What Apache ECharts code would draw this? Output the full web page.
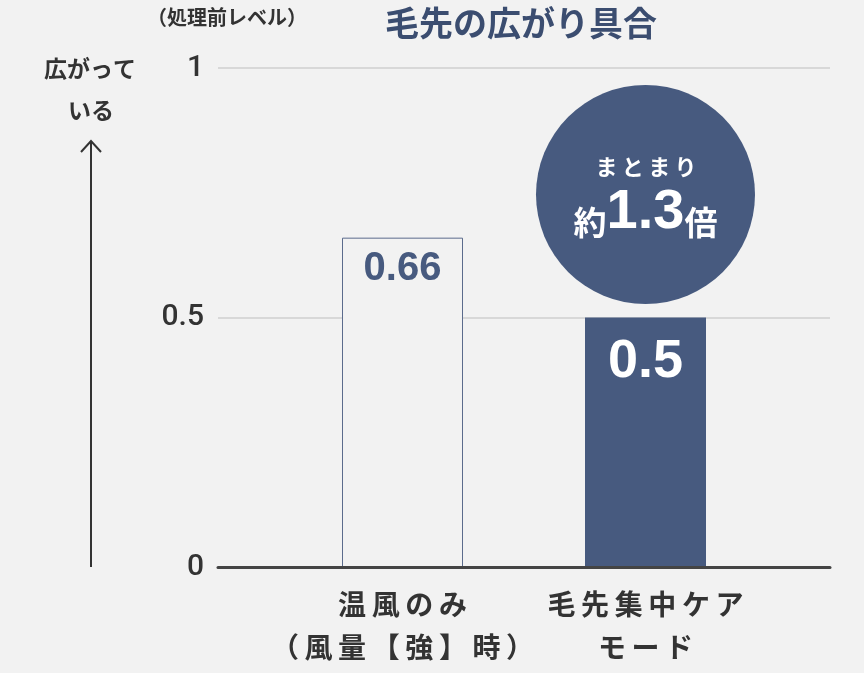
<!DOCTYPE html>
<html><head><meta charset="utf-8">
<script src="https://cdn.jsdelivr.net/npm/echarts@6/dist/echarts.min.js"></script>
<style>html,body{margin:0;padding:0;background:#f2f2f2}#c{width:864px;height:673px}</style>
</head><body><div id="c"></div>
<script>
// ---- data ----
const categories = ['温風のみ\n（風量【強】時）', '毛先集中ケア\nモード'];
const values = [0.66, 0.5];
const yTicks = [0, 0.5, 1];
const titleText = '毛先の広がり具合';
const noteText = '（処理前レベル）';
const yNameLines = ['広がって', 'いる'];
const badgeTop = 'まとまり';
const badgeMain = ['約', '1.3', '倍'];

// ---- style ----
const BG = '#f2f2f2';
const NAVY = '#475a7f';
const JP = '"Noto Sans CJK JP","Noto Sans",sans-serif';
const NUM = '"Liberation Sans",Arial,sans-serif';

const chart = echarts.init(document.getElementById('c'));

const spaced = s => s.split('\n').map(l => l.split('').join('\u2009')).join('\n');

chart.setOption({
  backgroundColor: BG,
  animation: false,
  grid: [
    { left: 218, right: 34, top: 68, bottom: 106 },
    { left: 281, right: 97, top: 68, bottom: 106 }
  ],
  xAxis: [
    { type: 'category', gridIndex: 0, data: ['', ''], z: 5,
      axisLine: { show: true, lineStyle: { color: '#444', width: 3 } },
      axisTick: { show: false }, axisLabel: { show: false }, splitLine: { show: false } },
    { type: 'category', gridIndex: 1, data: categories,
      axisLine: { show: false }, axisTick: { show: false },
      axisLabel: { interval: 0, margin: 16, fontSize: 28, lineHeight: 43, fontWeight: 'bold', color: '#333',
        fontFamily: JP, formatter: v => spaced(v) } }
  ],
  yAxis: [
    { type: 'value', gridIndex: 0, min: yTicks[0], max: yTicks[yTicks.length - 1],
      interval: yTicks[1] - yTicks[0],
      axisLine: { show: false }, axisTick: { show: false },
      axisLabel: { margin: 14, fontSize: 30, color: '#333', fontFamily: 'Roboto,"Liberation Sans",sans-serif', fontWeight: 500 },
      splitLine: { show: true, lineStyle: { color: '#cfcfcf', width: 1.5 } } },
    { type: 'value', gridIndex: 1, min: yTicks[0], max: yTicks[yTicks.length - 1],
      show: false, splitLine: { show: false } }
  ],
  series: [{
    type: 'bar', xAxisIndex: 1, yAxisIndex: 1, barWidth: 121,
    data: [
      { value: values[0],
        itemStyle: { color: BG, borderColor: '#5b6b8c', borderWidth: 1 },
        label: { show: true, position: 'insideTop', distance: 11, fontSize: 40,
          fontWeight: 'bold', color: NAVY, fontFamily: NUM } },
      { value: values[1],
        itemStyle: { color: NAVY },
        label: { show: true, position: 'insideTop', distance: 18, fontSize: 54,
          fontWeight: 'bold', color: '#fff', fontFamily: NUM } }
    ]
  }],
  graphic: [
    { type: 'text', x: 521, y: 23, style: { text: titleText, fontSize: 34, fontWeight: 'bold',
        fontFamily: JP, fill: '#3b4d70', align: 'center', verticalAlign: 'middle' } },
    { type: 'text', x: 227, y: 17, style: { text: noteText, fontSize: 20, fontWeight: 'bold',
        fontFamily: JP, fill: '#333', align: 'center', verticalAlign: 'middle' } },
    { type: 'text', x: 90, y: 68, style: { text: yNameLines[0], fontSize: 23, fontWeight: 'bold',
        fontFamily: JP, fill: '#333', align: 'center', verticalAlign: 'middle' } },
    { type: 'text', x: 91, y: 110, style: { text: yNameLines[1], fontSize: 23, fontWeight: 'bold',
        fontFamily: JP, fill: '#333', align: 'center', verticalAlign: 'middle' } },
    { type: 'line', shape: { x1: 91, y1: 567, x2: 91, y2: 141 },
      style: { stroke: '#333', lineWidth: 2 } },
    { type: 'polyline', shape: { points: [[81, 152], [91, 141], [101, 152]] },
      style: { stroke: '#333', lineWidth: 2, fill: null } },
    { type: 'circle', shape: { cx: 645.5, cy: 194.5, r: 109.5 }, style: { fill: NAVY } },
    { type: 'text', x: 646, y: 167, style: { text: badgeTop.split('').join('\u2009'), fontSize: 22,
        fontWeight: 'bold', fontFamily: JP, fill: '#fff', align: 'center', verticalAlign: 'middle' } },
    { type: 'text', x: 645.5, y: 213, style: {
        text: '{a|' + badgeMain[0] + '}{b|' + badgeMain[1] + '}{a|' + badgeMain[2] + '}',
        align: 'center', verticalAlign: 'middle', fill: '#fff',
        rich: {
          a: { fontSize: 33, fontWeight: 'bold', fontFamily: JP, fill: '#fff', verticalAlign: 'bottom', padding: [0, 0, 2, 0] },
          b: { fontSize: 56, fontWeight: 'bold', fontFamily: NUM, fill: '#fff', verticalAlign: 'bottom' }
        } } }
  ]
});
</script>
</body></html>
